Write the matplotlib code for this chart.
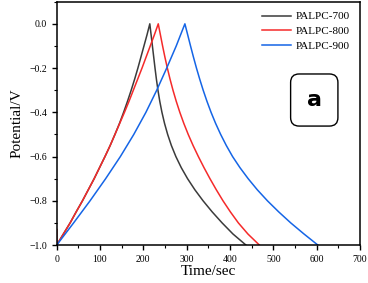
import matplotlib
matplotlib.use('Agg')
import matplotlib.pyplot as plt
from matplotlib.patches import FancyBboxPatch
from matplotlib.ticker import MultipleLocator

# potential steps (V) read every 0.05 V, charge branch then discharge branch
v_up = [-1.0, -0.95, -0.9, -0.85, -0.8, -0.75, -0.7, -0.65, -0.6, -0.55, -0.5,
        -0.45, -0.4, -0.35, -0.3, -0.25, -0.2, -0.15, -0.1, -0.05, 0.0]
v_down = [0.0, -0.05, -0.1, -0.15, -0.2, -0.25, -0.3, -0.35, -0.4, -0.45, -0.5,
          -0.55, -0.6, -0.65, -0.7, -0.75, -0.8, -0.85, -0.9, -0.95, -1.0]

# time (sec) for each potential step
t700_up = [0, 15.5, 31, 45, 59.5, 73, 86.5, 99, 111.5, 123.5, 134.5,
           145, 154.5, 163.5, 172, 180, 187.5, 194.5, 201.5, 208.5, 215]
t700_down = [215, 218, 221, 224, 227, 230.2, 233.8, 238, 243, 249, 256.2,
             264.8, 275.2, 287.6, 302.2, 319, 338, 359, 382, 407, 437]

t800_up = [0, 15.5, 31, 45, 59.5, 73, 86.5, 99, 111.5, 123.5, 134.5,
           145.5, 156.5, 167, 177, 187, 197, 206.5, 216, 225.5, 234.5]
t800_down = [234.5, 239.5, 244.5, 249.8, 255.5, 261.7, 268.5, 276, 284.3, 293.5, 303.7,
             314.9, 327.1, 340.1, 353.9, 368.5, 384, 401, 419.5, 441.5, 468]

t900_up = [0, 19.5, 39, 58, 77, 95, 113, 130, 147, 162.5, 178,
           192, 206, 218.5, 231, 242.5, 254, 265, 276, 286, 296]
t900_down = [296, 302.5, 309, 315.7, 322.7, 330.2, 338.2, 346.9, 356.4, 366.9, 378.6,
             391.6, 406.1, 423.1, 442.1, 463.1, 486.6, 512.6, 540.5, 571, 603]

# small IR step at t = 0 for the 700 / 800 samples
ir_start = -0.93

labels = ['PALPC-700', 'PALPC-800', 'PALPC-900']
colors = ['#3b3b3b', '#f52a2a', '#1565e6']

plt.rcParams['font.family'] = ['Liberation Serif', 'DejaVu Serif']

fig = plt.figure(figsize=(3.68, 2.83), dpi=100)
ax = fig.add_axes([0.154, 0.134, 0.824, 0.86])

series = [
    ([0] + t700_up + t700_down[1:], [ir_start] + v_up + v_down[1:]),
    ([0] + t800_up + t800_down[1:], [ir_start] + v_up + v_down[1:]),
    (t900_up + t900_down[1:], v_up + v_down[1:]),
]
for (t, v), lab, c in zip(series, labels, colors):
    ax.plot(t, v, color=c, lw=1.1, label=lab)

ax.set_xlim(0, 700)
ax.set_ylim(-1.0, 0.1)
ax.xaxis.set_major_locator(MultipleLocator(100))
ax.xaxis.set_minor_locator(MultipleLocator(50))
ax.yaxis.set_minor_locator(MultipleLocator(0.1))
ax.set_yticks([0.0, -0.2, -0.4, -0.6, -0.8, -1.0])
ax.tick_params(which='major', direction='out', length=3.5, width=1.0, labelsize=7)
ax.tick_params(which='minor', direction='out', length=2, width=0.8)
for s in ax.spines.values():
    s.set_linewidth(1.1)

ax.set_xlabel('Time/sec', fontsize=11, labelpad=1)
ax.set_ylabel('Potential/V', fontsize=11, labelpad=4)

ax.legend(loc='upper right', frameon=False, fontsize=8, handlelength=2.6,
          handletextpad=0.4, labelspacing=0.45, borderaxespad=0.5)

# label box "a"
box = FancyBboxPatch((0.7715, 0.489), 0.156, 0.214, transform=ax.transAxes,
                     boxstyle='round,pad=0,rounding_size=0.028', mutation_aspect=1.25,
                     facecolor='white', edgecolor='black', lw=1.0)
ax.add_patch(box)
ax.text(0.8495, 0.596, 'a', transform=ax.transAxes, ha='center', va='center',
        fontsize=16, fontweight='bold', family='DejaVu Sans')

fig.savefig('out.png', dpi=100)
